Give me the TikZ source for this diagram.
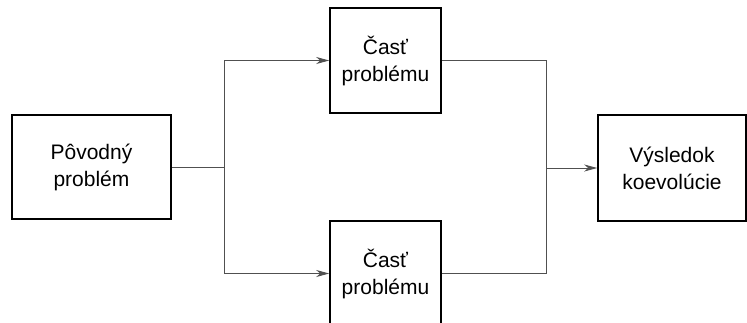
\documentclass[tikz,border=0pt]{standalone}
\usepackage{fontspec}
\setmainfont{Liberation Sans}
\usetikzlibrary{arrows.meta}
\definecolor{wire}{HTML}{505050}
\tikzset{
  box/.style={draw=black, line width=1.6pt, align=center, inner sep=0pt,
    font=\fontsize{21}{27}\selectfont},
  link/.style={draw=wire, line width=0.9pt},
  arrowlink/.style={link, -{Stealth[length=13pt, width=7pt, inset=4pt]}},
}
\begin{document}
\begin{tikzpicture}[x=1pt, y=-1pt]
  \useasboundingbox (0,0) rectangle (747,322);
  \clip (0,0) rectangle (747,322);

  % blocks
  \node[box, minimum width=159pt, minimum height=104pt] (orig) at (91.5,167) {Pôvodný\\problém};
  \node[box, minimum width=111pt, minimum height=105pt] (partA) at (385.5,60.5) {Časť\\problému};
  \node[box, minimum width=111pt, minimum height=105pt] (partB) at (385.5,273.5) {Časť\\problému};
  \node[box, minimum width=148pt, minimum height=106pt] (result) at (672,168) {Výsledok\\koevolúcie};

  % split point and merge point
  \coordinate (split) at (224,167);
  \coordinate (merge) at (546,168);

  % splitting the problem
  \draw[link] (orig.east) -- (split);
  \draw[arrowlink] (split) |- (partA.west);
  \draw[arrowlink] (split) |- (partB.west);

  % merging the parts
  \draw[link] (partA.east) -| (merge);
  \draw[link] (partB.east) -| (merge);
  \draw[arrowlink] (merge) -- (result.west);
\end{tikzpicture}
\end{document}
